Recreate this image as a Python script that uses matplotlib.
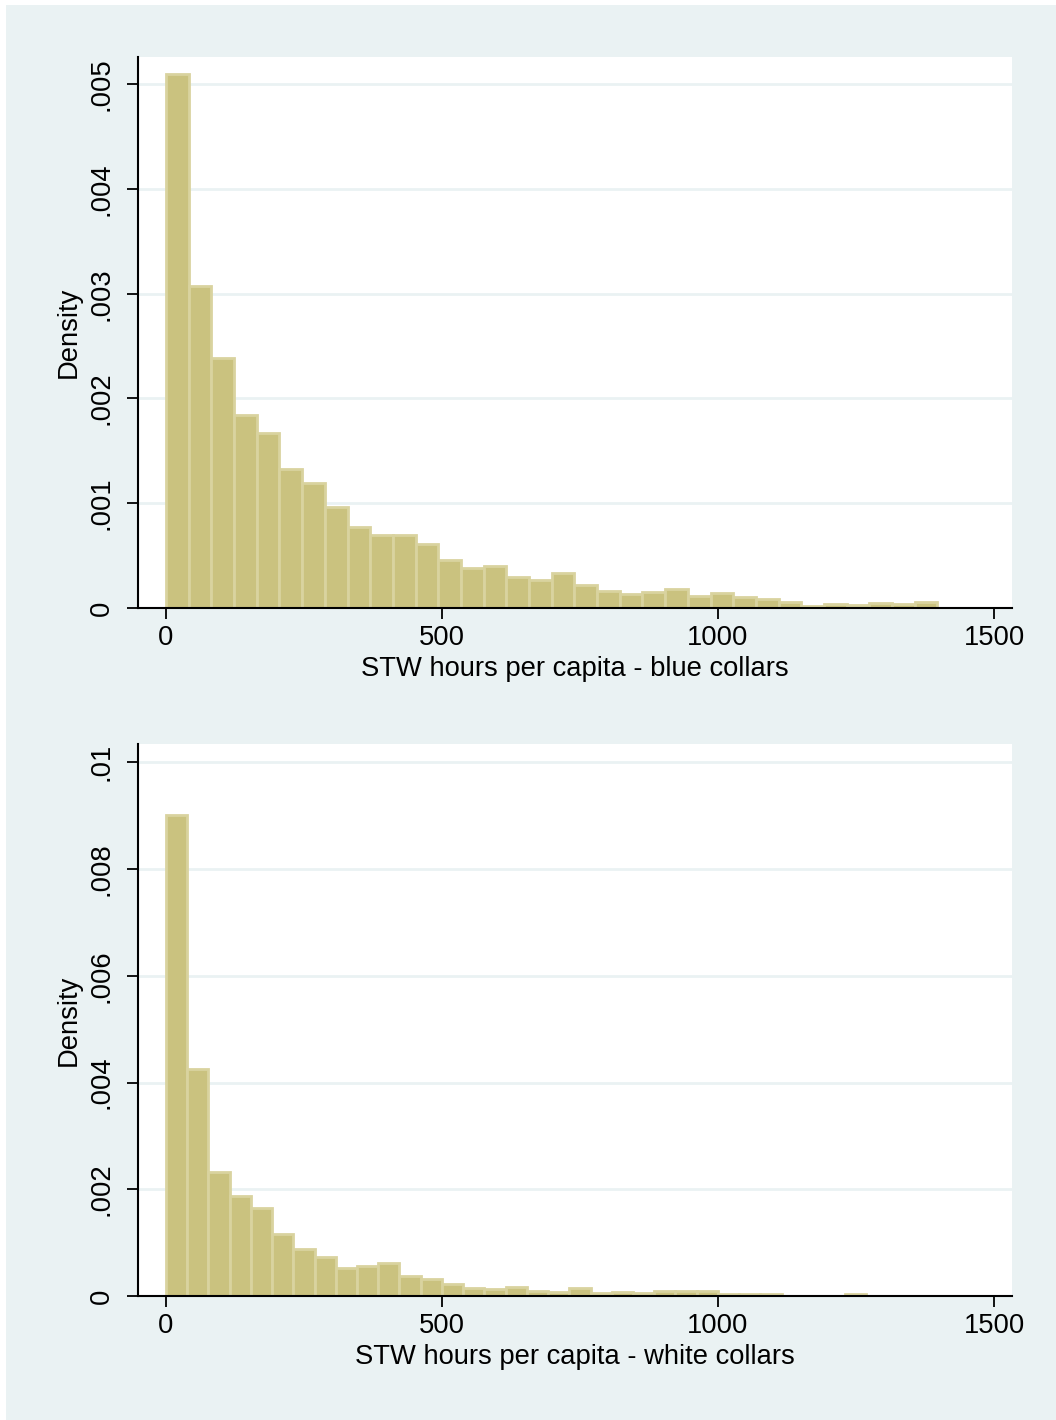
import matplotlib
matplotlib.use("Agg")
import matplotlib.pyplot as plt
import numpy as np

# histogram densities (x 1e-3)
blue_density = [5.10, 3.07, 2.39, 1.84, 1.67, 1.33, 1.19, 0.965, 0.77, 0.70,
                0.70, 0.61, 0.46, 0.38, 0.40, 0.30, 0.27, 0.33, 0.22, 0.16,
                0.134, 0.153, 0.18, 0.115, 0.14, 0.105, 0.086, 0.058, 0.022, 0.038,
                0.029, 0.048, 0.038, 0.058]
blue_bin_width = 41.1

white_density = [9.01, 4.25, 2.33, 1.87, 1.64, 1.16, 0.875, 0.74, 0.525, 0.556,
                 0.61, 0.37, 0.325, 0.23, 0.156, 0.14, 0.16, 0.10, 0.08, 0.15,
                 0.055, 0.08, 0.06, 0.09, 0.09, 0.09, 0.045, 0.045, 0.045, 0.0,
                 0.0, 0.0, 0.045]
white_bin_width = 38.45

x_ticks = [0, 500, 1000, 1500]
blue_yticks = [0, 0.001, 0.002, 0.003, 0.004, 0.005]
blue_ylabels = ["0", ".001", ".002", ".003", ".004", ".005"]
white_yticks = [0, 0.002, 0.004, 0.006, 0.008, 0.01]
white_ylabels = ["0", ".002", ".004", ".006", ".008", ".01"]

plt.rcParams['font.family'] = ['Liberation Sans', 'DejaVu Sans']

bg = "#eaf2f3"
fill = "#cac27f"
edge = "#d9d39f"
fs = 19.7

fig = plt.figure(figsize=(10.56, 14.2), dpi=100)
fig.patch.set_facecolor("white")
fig.add_artist(plt.Rectangle((6 / 1056, 0), 1, 1 - 5 / 1420, transform=fig.transFigure,
                             facecolor=bg, edgecolor="none", zorder=-10))


def draw(ax, dens, width, yticks, ylabels, ylim, xlabel):
    dens = np.array(dens) / 1000.0
    left = np.arange(len(dens)) * width
    ax.bar(left, dens, width=width, align="edge", color=fill, edgecolor=edge,
           linewidth=2.0, zorder=3)
    ax.set_facecolor("white")
    ax.set_xlim(-50.7, 1532.6)
    ax.set_ylim(0, ylim)
    ax.set_xticks(x_ticks)
    ax.set_xticklabels([str(t) for t in x_ticks])
    ax.set_yticks(yticks)
    ax.set_yticklabels(ylabels, rotation=90, va="center")
    for y in yticks[1:]:
        ax.axhline(y, color=bg, linewidth=2.0, zorder=1)
    for s in ["top", "right"]:
        ax.spines[s].set_visible(False)
    for s in ["left", "bottom"]:
        ax.spines[s].set_linewidth(1.5)
        ax.spines[s].set_zorder(5)
    ax.tick_params(axis="both", direction="out", length=8, width=1.3, labelsize=fs)
    ax.tick_params(axis="x", pad=4.5)
    ax.tick_params(axis="y", pad=9)
    ax.set_xlabel(xlabel, fontsize=fs, labelpad=3)
    ax.set_ylabel("Density", fontsize=fs, labelpad=5)


ax1 = fig.add_axes([0.1307, 0.5718, 0.8277, 0.3880])
draw(ax1, blue_density, blue_bin_width, blue_yticks, blue_ylabels, 0.005258,
     "STW hours per capita - blue collars")

ax2 = fig.add_axes([0.1307, 0.0873, 0.8277, 0.3887])
draw(ax2, white_density, white_bin_width, white_yticks, white_ylabels, 0.01034,
     "STW hours per capita - white collars")

fig.savefig("out.png", dpi=100, facecolor=fig.get_facecolor())
